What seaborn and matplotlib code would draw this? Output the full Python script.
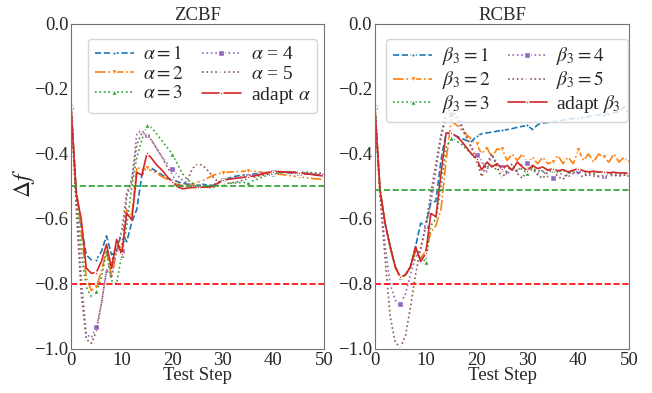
import numpy as np
import matplotlib
matplotlib.use('Agg')
import matplotlib.pyplot as plt
import seaborn as sns

# --- data: Delta f over test steps 0..50 ---
steps = np.arange(51)

# ZCBF, different alpha
zc_a1 = [-0.256, -0.51, -0.62, -0.71, -0.726, -0.726, -0.70, -0.652, -0.71, -0.70,
         -0.64, -0.67, -0.61, -0.57, -0.465, -0.44, -0.445, -0.455, -0.465, -0.475,
         -0.48, -0.485, -0.49, -0.493, -0.495, -0.49, -0.493, -0.496, -0.497, -0.49,
         -0.48, -0.475, -0.47, -0.467, -0.465, -0.463, -0.462, -0.46, -0.458, -0.457,
         -0.456, -0.456, -0.457, -0.458, -0.459, -0.46, -0.461, -0.462, -0.463, -0.465, -0.466]
zc_a2 = [-0.256, -0.51, -0.64, -0.78, -0.82, -0.81, -0.76, -0.696, -0.778, -0.70,
         -0.68, -0.572, -0.59, -0.44, -0.449, -0.444, -0.452, -0.46, -0.47, -0.478,
         -0.488, -0.494, -0.497, -0.496, -0.493, -0.49, -0.482, -0.474, -0.466, -0.461,
         -0.457, -0.456, -0.455, -0.454, -0.453, -0.452, -0.453, -0.455, -0.457, -0.459,
         -0.46, -0.462, -0.464, -0.466, -0.468, -0.47, -0.472, -0.474, -0.476, -0.477, -0.478]
zc_a3 = [-0.256, -0.52, -0.70, -0.81, -0.839, -0.823, -0.78, -0.70, -0.79, -0.80,
         -0.71, -0.62, -0.50, -0.41, -0.357, -0.311, -0.32, -0.34, -0.36, -0.38,
         -0.40, -0.43, -0.46, -0.48, -0.49, -0.495, -0.50, -0.503, -0.503, -0.498,
         -0.49, -0.49, -0.49, -0.488, -0.488, -0.487, -0.482, -0.476, -0.47, -0.465,
         -0.461, -0.458, -0.456, -0.455, -0.455, -0.456, -0.458, -0.46, -0.462, -0.464, -0.466]
zc_a4 = [-0.256, -0.54, -0.777, -0.955, -0.965, -0.933, -0.86, -0.757, -0.78, -0.685,
         -0.70, -0.53, -0.485, -0.336, -0.328, -0.342, -0.36, -0.385, -0.41, -0.43,
         -0.446, -0.465, -0.48, -0.49, -0.497, -0.50, -0.50, -0.498, -0.495, -0.488,
         -0.48, -0.477, -0.474, -0.472, -0.47, -0.468, -0.465, -0.462, -0.458, -0.456,
         -0.454, -0.455, -0.456, -0.457, -0.458, -0.459, -0.46, -0.461, -0.462, -0.463, -0.464]
zc_a5 = [-0.256, -0.56, -0.83, -0.97, -0.983, -0.947, -0.86, -0.76, -0.73, -0.69,
         -0.64, -0.52, -0.48, -0.37, -0.335, -0.34, -0.36, -0.385, -0.41, -0.44,
         -0.465, -0.49, -0.50, -0.48, -0.445, -0.43, -0.435, -0.45, -0.47, -0.485,
         -0.49, -0.49, -0.488, -0.485, -0.48, -0.476, -0.472, -0.468, -0.465, -0.462,
         -0.46, -0.458, -0.456, -0.455, -0.455, -0.455, -0.456, -0.457, -0.458, -0.459, -0.46]
zc_adapt = [-0.256, -0.52, -0.60, -0.751, -0.767, -0.765, -0.73, -0.678, -0.752, -0.663,
            -0.709, -0.582, -0.603, -0.457, -0.465, -0.398, -0.415, -0.435, -0.45, -0.47,
            -0.485, -0.50, -0.507, -0.505, -0.503, -0.503, -0.502, -0.502, -0.50, -0.49,
            -0.48, -0.478, -0.476, -0.474, -0.472, -0.47, -0.468, -0.465, -0.461, -0.457,
            -0.454, -0.454, -0.455, -0.456, -0.457, -0.458, -0.46, -0.462, -0.464, -0.466, -0.468]

# RCBF, different beta_3
rc_b1 = [-0.256, -0.51, -0.613, -0.685, -0.747, -0.78, -0.772, -0.747, -0.685, -0.613,
         -0.62, -0.55, -0.545, -0.418, -0.336, -0.338, -0.345, -0.352, -0.358, -0.362,
         -0.345, -0.338, -0.335, -0.333, -0.33, -0.327, -0.325, -0.322, -0.318, -0.315,
         -0.312, -0.325, -0.31, -0.305, -0.303, -0.30, -0.298, -0.296, -0.293, -0.291,
         -0.29, -0.288, -0.285, -0.282, -0.28, -0.279, -0.277, -0.273, -0.27, -0.255, -0.275]
rc_b2 = [-0.256, -0.51, -0.613, -0.685, -0.747, -0.78, -0.772, -0.747, -0.70, -0.72,
         -0.70, -0.64, -0.62, -0.57, -0.42, -0.30, -0.31, -0.325, -0.34, -0.355,
         -0.37, -0.40, -0.38, -0.41, -0.385, -0.386, -0.42, -0.40, -0.42, -0.40,
         -0.43, -0.41, -0.43, -0.41, -0.43, -0.424, -0.405, -0.43, -0.41, -0.43,
         -0.388, -0.42, -0.40, -0.425, -0.40, -0.41, -0.425, -0.40, -0.425, -0.41, -0.425]
rc_b3 = [-0.256, -0.51, -0.613, -0.685, -0.747, -0.78, -0.772, -0.747, -0.70, -0.72,
         -0.731, -0.62, -0.60, -0.50, -0.38, -0.352, -0.36, -0.37, -0.385, -0.40,
         -0.42, -0.43, -0.44, -0.435, -0.45, -0.445, -0.455, -0.44, -0.45, -0.445,
         -0.46, -0.445, -0.45, -0.455, -0.45, -0.448, -0.455, -0.45, -0.458, -0.452,
         -0.45, -0.455, -0.456, -0.458, -0.455, -0.457, -0.46, -0.458, -0.46, -0.459, -0.462]
rc_b4 = [-0.256, -0.52, -0.68, -0.80, -0.85, -0.863, -0.83, -0.77, -0.72, -0.69,
         -0.622, -0.55, -0.45, -0.35, -0.285, -0.277, -0.29, -0.32, -0.35, -0.38,
         -0.403, -0.42, -0.455, -0.40, -0.43, -0.44, -0.465, -0.44, -0.455, -0.43,
         -0.428, -0.45, -0.46, -0.45, -0.47, -0.475, -0.455, -0.465, -0.47, -0.46,
         -0.455, -0.46, -0.465, -0.468, -0.47, -0.468, -0.467, -0.466, -0.465, -0.464, -0.463]
rc_b5 = [-0.256, -0.53, -0.72, -0.90, -0.98, -0.995, -0.96, -0.87, -0.77, -0.69,
         -0.62, -0.52, -0.43, -0.34, -0.27, -0.262, -0.28, -0.31, -0.345, -0.38,
         -0.42, -0.47, -0.43, -0.40, -0.44, -0.475, -0.45, -0.43, -0.46, -0.475,
         -0.445, -0.44, -0.465, -0.475, -0.455, -0.45, -0.47, -0.478, -0.46, -0.455,
         -0.465, -0.47, -0.46, -0.462, -0.468, -0.465, -0.462, -0.465, -0.468, -0.465, -0.463]
rc_adapt = [-0.256, -0.51, -0.613, -0.685, -0.747, -0.78, -0.772, -0.747, -0.685, -0.731,
            -0.706, -0.583, -0.593, -0.46, -0.336, -0.336, -0.345, -0.36, -0.38, -0.40,
            -0.415, -0.449, -0.425, -0.44, -0.43, -0.445, -0.435, -0.45, -0.425, -0.44,
            -0.451, -0.435, -0.445, -0.44, -0.45, -0.445, -0.452, -0.448, -0.455, -0.45,
            -0.445, -0.452, -0.455, -0.453, -0.456, -0.455, -0.458, -0.456, -0.459, -0.458, -0.46]

zc_labels = [r'$\alpha=1$', r'$\alpha=2$', r'$\alpha=3$', r'$\alpha$ = 4', r'$\alpha$ = 5', r'adapt $\alpha$']
rc_labels = [r'$\beta_3=1$', r'$\beta_3=2$', r'$\beta_3=3$', r'$\beta_3=4$', r'$\beta_3=5$', r'adapt $\beta_3$']
zc_target, zc_limit = -0.50, -0.80
rc_target, rc_limit = -0.51, -0.80

# --- styling ---
sns.set_style('ticks')
plt.rcParams['font.family'] = ['Liberation Serif', 'DejaVu Serif']
plt.rcParams['mathtext.fontset'] = 'stix'
plt.rcParams['axes.edgecolor'] = '0.45'

pal = sns.color_palette('tab10')
styles = [
    dict(color=pal[0], linestyle='--', marker='.', markersize=5),
    dict(color=pal[1], linestyle='-.', marker='v', markersize=5),
    dict(color=pal[2], linestyle=':', marker='^', markersize=5),
    dict(color=pal[4], linestyle=':', marker='s', markersize=5),
    dict(color=pal[5], linestyle=':', marker='1', markersize=5),
    dict(color=pal[3], linestyle='-', marker='.', markersize=4),
]

fig = plt.figure(figsize=(6.52, 3.93), dpi=100)
ax1 = fig.add_axes([0.109, 0.112, 0.388, 0.827])
ax2 = fig.add_axes([0.575, 0.112, 0.390, 0.827])

panels = [
    (ax1, 'ZCBF', [zc_a1, zc_a2, zc_a3, zc_a4, zc_a5, zc_adapt], zc_labels, zc_target, zc_limit),
    (ax2, 'RCBF', [rc_b1, rc_b2, rc_b3, rc_b4, rc_b5, rc_adapt], rc_labels, rc_target, rc_limit),
]

for ax, title, series, labels, target, limit in panels:
    for vals, lab, st in zip(series, labels, styles):
        sns.lineplot(x=steps, y=vals, ax=ax, label=lab, linewidth=1.2,
                     markevery=5, markeredgewidth=1, **st)
    ax.axhline(target, color=pal[2], linestyle='--', linewidth=1.2)
    ax.axhline(limit, color='red', linestyle='--', linewidth=1.2)
    ax.set_xlim(0, 50)
    ax.set_ylim(-1.0, 0.0)
    ax.set_xticks([0, 10, 20, 30, 40, 50])
    ax.set_yticks([-1.0, -0.8, -0.6, -0.4, -0.2, 0.0])
    ax.tick_params(labelsize=13.5, length=0, pad=2)
    ax.set_title(title, fontsize=13.5, pad=3)
    ax.set_xlabel('Test Step', fontsize=13.5, labelpad=-1)
    ax.set_ylabel('')
    ax.legend(loc='upper center', ncol=2, fontsize=14, handlelength=2.0,
              columnspacing=0.9, labelspacing=0.1, borderpad=0.35, handletextpad=0.5,
              bbox_to_anchor=(0.52, 0.985))

ax1.set_ylabel(r'$\Delta f$', fontsize=17)
ax1.yaxis.set_label_coords(-0.135, 0.51)

fig.savefig('out.png', dpi=100)
